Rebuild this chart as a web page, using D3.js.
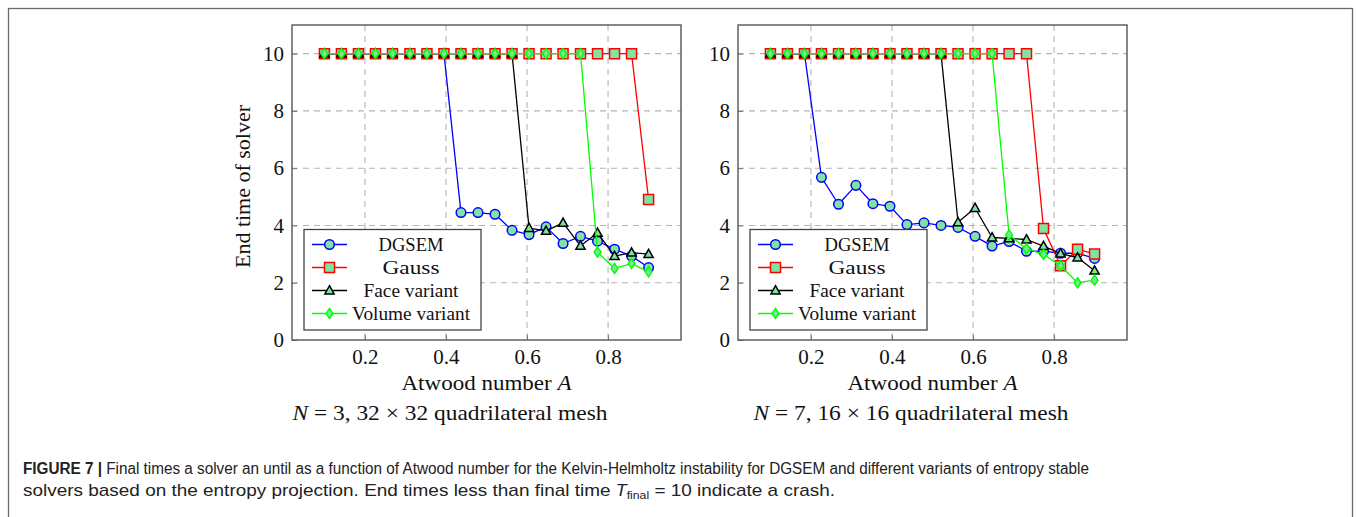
<!DOCTYPE html>
<meta charset="utf-8">
<script src="https://d3js.org/d3.v7.min.js"></script>
<style>
  body { margin: 0; background: #fff; }
  text { font-family: "Liberation Serif", serif; fill: #111; }
  .cap { font-family: "Liberation Sans", Arial, sans-serif; font-size: 16px; fill: #222; }
</style>
<div id="my_dataviz"></div>
<script>

// Atwood numbers (same for both panels)
var atwood = [0.100, 0.142, 0.184, 0.226, 0.268, 0.311, 0.353, 0.395, 0.437, 0.479,
              0.521, 0.563, 0.605, 0.647, 0.689, 0.732, 0.774, 0.816, 0.858, 0.900];

// left panel: N = 3, 32 x 32 mesh
var left_dgsem  = [10, 10, 10, 10, 10, 10, 10, 10, 4.45, 4.45, 4.39, 3.83, 3.68, 3.95, 3.37, 3.62, 3.45, 3.17, 2.93, 2.53];
var left_gauss  = [10, 10, 10, 10, 10, 10, 10, 10, 10, 10, 10, 10, 10, 10, 10, 10, 10, 10, 10, 4.91];
var left_face   = [10, 10, 10, 10, 10, 10, 10, 10, 10, 10, 10, 10, 3.91, 3.81, 4.09, 3.29, 3.74, 2.93, 3.05, 3.00];
var left_volume = [10, 10, 10, 10, 10, 10, 10, 10, 10, 10, 10, 10, 10, 10, 10, 10, 3.07, 2.50, 2.67, 2.38];

// right panel: N = 7, 16 x 16 mesh
var right_dgsem  = [10, 10, 10, 5.68, 4.74, 5.40, 4.76, 4.67, 4.03, 4.09, 4.00, 3.93, 3.62, 3.28, 3.44, 3.10, 3.10, 3.03, 3.03, 2.85];
var right_gauss  = [10, 10, 10, 10, 10, 10, 10, 10, 10, 10, 10, 10, 10, 10, 10, 10, 3.89, 2.59, 3.17, 3.00];
var right_face   = [10, 10, 10, 10, 10, 10, 10, 10, 10, 10, 10, 4.11, 4.61, 3.58, 3.55, 3.51, 3.28, 3.02, 2.88, 2.42];
var right_volume = [10, 10, 10, 10, 10, 10, 10, 10, 10, 10, 10, 10, 10, 10, 3.67, 3.19, 2.99, 2.59, 2.00, 2.09];

var xTicks = [0.2, 0.4, 0.6, 0.8];
var yTicks = [0, 2, 4, 6, 8, 10];
var seriesNames = ["DGSEM", "Gauss", "Face variant", "Volume variant"];
var seriesColors = ["#0000ff", "#ff0000", "#000000", "#00ff00"];
var markFill = "#80e3a3";

var W = 1356, H = 517;

var svg = d3.select("#my_dataviz")
  .append("svg")
    .attr("width", W)
    .attr("height", H);

svg.append("rect").attr("width", W).attr("height", H).attr("fill", "#fff");

// outer figure frame (bottom edge falls outside the picture)
svg.append("rect")
    .attr("x", 8.5).attr("y", 8.5)
    .attr("width", 1344).attr("height", 530)
    .attr("fill", "none")
    .attr("stroke", "#6a6a6a")
    .attr("stroke-width", 1.3);

// marker shapes
var markPath = [
  d3.symbol().type(d3.symbolCircle).size(72)(),
  "M-5,-5H5V5H-5Z",
  "M0,-4.8L4.6,3.4L-4.6,3.4Z",
  "M0,-5L3.4,0L0,5L-3.4,0Z"
];
// widths of the legend labels in the reference
var legendWidths = [65, 57, 95, 118];

function drawPanel(left, series, caption, showYLabel) {
  var top = 25, bottom = 340, right = left + 389;

  var x = d3.scaleLinear().domain([0.02, 0.98]).range([left, right]);
  var y = d3.scaleLinear().domain([0, 11]).range([bottom, top]);

  var g = svg.append("g");

  // dashed grid
  g.append("g").selectAll("line").data(xTicks).enter().append("line")
      .attr("x1", function (d) { return x(d); }).attr("x2", function (d) { return x(d); })
      .attr("y1", top).attr("y2", bottom)
      .attr("stroke", "#b4b4b4").attr("stroke-width", 1.1)
      .attr("stroke-dasharray", "6,5");
  g.append("g").selectAll("line").data(yTicks.slice(1)).enter().append("line")
      .attr("x1", left).attr("x2", right)
      .attr("y1", function (d) { return y(d); }).attr("y2", function (d) { return y(d); })
      .attr("stroke", "#b4b4b4").attr("stroke-width", 1.1)
      .attr("stroke-dasharray", "6,5");

  // axes with inward ticks
  var ax = g.append("g")
    .attr("transform", "translate(0," + bottom + ")")
    .call(d3.axisBottom(x).tickValues(xTicks).tickSize(-5).tickPadding(9).tickFormat(d3.format(".1f")));
  var ay = g.append("g")
    .attr("transform", "translate(" + left + ",0)")
    .call(d3.axisLeft(y).tickValues(yTicks).tickSize(-5).tickPadding(8).tickFormat(d3.format("d")));
  [ax, ay].forEach(function (a) {
    a.select(".domain").remove();
    a.selectAll(".tick line").attr("stroke", "#777").attr("stroke-width", 1);
    a.selectAll(".tick text")
      .attr("fill", "#111")
      .style("font-family", "Liberation Serif, serif")
      .style("font-size", "21px");
  });
  ax.selectAll(".tick text").attr("dy", "0.71em");

  // lines and markers
  series.forEach(function (vals, s) {
    var pts = atwood.map(function (a, i) { return [a, vals[i]]; });
    g.append("path")
      .datum(pts)
      .attr("fill", "none")
      .attr("stroke", seriesColors[s])
      .attr("stroke-width", 1.3)
      .attr("stroke-linejoin", "round")
      .attr("d", d3.line()
        .x(function (d) { return x(d[0]); })
        .y(function (d) { return y(d[1]); }));
    g.append("g").selectAll("path").data(pts).enter().append("path")
      .attr("transform", function (d) { return "translate(" + x(d[0]) + "," + y(d[1]) + ")"; })
      .attr("d", markPath[s])
      .attr("fill", markFill)
      .attr("stroke", seriesColors[s])
      .attr("stroke-width", 1.5);
  });

  // axis frame
  g.append("rect")
    .attr("x", left).attr("y", top)
    .attr("width", right - left).attr("height", bottom - top)
    .attr("fill", "none")
    .attr("stroke", "#555")
    .attr("stroke-width", 1.4);

  // legend
  var lx = left + 12, ly = 229.5, lw = 177, lh = 100.5;
  var leg = g.append("g");
  leg.append("rect")
    .attr("x", lx).attr("y", ly).attr("width", lw).attr("height", lh)
    .attr("fill", "#fff").attr("stroke", "#444").attr("stroke-width", 1.3);
  seriesNames.forEach(function (name, s) {
    var yy = ly + 15 + s * 23;
    leg.append("line")
      .attr("x1", lx + 8).attr("x2", lx + 43)
      .attr("y1", yy).attr("y2", yy)
      .attr("stroke", seriesColors[s]).attr("stroke-width", 1.3);
    leg.append("path")
      .attr("transform", "translate(" + (lx + 25.5) + "," + yy + ")")
      .attr("d", markPath[s])
      .attr("fill", markFill)
      .attr("stroke", seriesColors[s])
      .attr("stroke-width", 1.5);
    leg.append("text")
      .attr("x", lx + 107 - legendWidths[s] / 2).attr("y", yy + 6)
      .attr("textLength", legendWidths[s])
      .attr("lengthAdjust", "spacingAndGlyphs")
      .style("font-size", "18.5px")
      .text(name);
  });

  // x label
  var cx = (left + right) / 2;
  var xl = g.append("text")
    .attr("x", cx - 85).attr("y", 390)
    .attr("textLength", 170).attr("lengthAdjust", "spacingAndGlyphs")
    .style("font-size", "21px");
  xl.append("tspan").text("Atwood number ");
  xl.append("tspan").style("font-style", "italic").text("A");

  // y label
  if (showYLabel) {
    g.append("text")
      .attr("transform", "translate(250," + ((top + bottom) / 2 + 4) + ") rotate(-90)")
      .attr("x", -81.5)
      .attr("textLength", 163).attr("lengthAdjust", "spacingAndGlyphs")
      .style("font-size", "21px")
      .text("End time of solver");
  }

  // sub caption
  var sc = g.append("text")
    .attr("x", caption.x - 157.5).attr("y", 420)
    .attr("textLength", 315).attr("lengthAdjust", "spacingAndGlyphs")
    .style("font-size", "21px");
  sc.append("tspan").style("font-style", "italic").text("N");
  sc.append("tspan").text(" = " + caption.n + ", " + caption.m + " \u00d7 " + caption.m + " quadrilateral mesh");
}

drawPanel(292, [left_dgsem, left_gauss, left_face, left_volume], {x: 450, n: 3, m: 32}, true);
drawPanel(738, [right_dgsem, right_gauss, right_face, right_volume], {x: 911, n: 7, m: 16}, false);

// figure caption
var c1 = svg.append("text").attr("class", "cap")
  .attr("x", 23).attr("y", 474)
  .attr("textLength", 1066).attr("lengthAdjust", "spacingAndGlyphs");
c1.append("tspan").style("font-weight", "bold").text("FIGURE 7 | ");
c1.append("tspan").text("Final times a solver an until as a function of Atwood number for the Kelvin-Helmholtz instability for DGSEM and different variants of entropy stable");

var c2 = svg.append("text").attr("class", "cap")
  .attr("x", 23).attr("y", 496)
  .attr("textLength", 812).attr("lengthAdjust", "spacingAndGlyphs");
c2.append("tspan").text("solvers based on the entropy projection. End times less than final time ");
c2.append("tspan").style("font-style", "italic").text("T");
c2.append("tspan").attr("dy", 3).style("font-size", "11px").text("final");
c2.append("tspan").attr("dy", -3).style("font-size", "17px").text(" = 10 indicate a crash.");
c2.select("tspan").style("font-size", "17px");

</script>
